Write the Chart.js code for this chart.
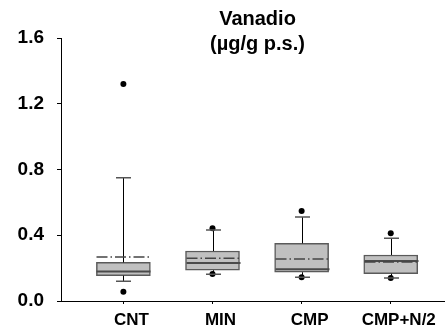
<!DOCTYPE html>
<html>
<head>
<meta charset="utf-8">
<script src="https://cdn.jsdelivr.net/npm/chart.js@4"></script>
<style>
  html, body { margin: 0; padding: 0; background: #fff; overflow: hidden; }
</style>
</head>
<body>
<canvas id="chart" width="450" height="334"></canvas>
<script>
const categories = ["CNT", "MIN", "CMP", "CMP+N/2"];
const q1 = [0.154, 0.187, 0.175, 0.166];
const median = [0.180, 0.231, 0.193, 0.243];
const q3 = [0.235, 0.304, 0.351, 0.280];
const whiskerLow = [0.120, 0.162, 0.144, 0.140];
const whiskerHigh = [0.750, 0.432, 0.511, 0.381];
const means = [0.268, 0.260, 0.255, 0.238];
const outlierHigh = [1.32, 0.442, 0.547, 0.412];
const outlierLow = [0.057, 0.165, 0.144, 0.140];
const yTicks = [0, 0.4, 0.8, 1.2, 1.6];
const titleLines = ["Vanadio", "(µg/g p.s.)"];

const BOX_W = 54;
const CAP_W = 15;
const FONT = "'Liberation Sans', Arial, sans-serif";

// whiskers, caps, median and mean lines on top of the boxes
const boxLines = {
  id: "boxLines",
  afterDatasetsDraw(chart) {
    const { ctx, scales: { x, y } } = chart;
    ctx.save();
    categories.forEach((c, i) => {
      const cx = Math.round(x.getPixelForValue(i)) + 0.5;
      const left = cx - BOX_W / 2, right = cx + BOX_W / 2;

      ctx.strokeStyle = "#000";
      ctx.lineWidth = 1;
      ctx.setLineDash([]);
      ctx.beginPath();
      ctx.moveTo(cx, y.getPixelForValue(q3[i]));
      ctx.lineTo(cx, y.getPixelForValue(whiskerHigh[i]));
      ctx.moveTo(cx, y.getPixelForValue(q1[i]));
      ctx.lineTo(cx, y.getPixelForValue(whiskerLow[i]));
      ctx.stroke();

      ctx.strokeStyle = "#555";
      ctx.lineWidth = 1.5;
      ctx.beginPath();
      [whiskerHigh[i], whiskerLow[i]].forEach(v => {
        const py = y.getPixelForValue(v);
        ctx.moveTo(cx - CAP_W / 2, py);
        ctx.lineTo(cx + CAP_W / 2, py);
      });
      ctx.stroke();

      ctx.strokeStyle = "#4a4a4a";
      ctx.lineWidth = 2;
      ctx.beginPath();
      const my = y.getPixelForValue(median[i]);
      ctx.moveTo(left, my);
      ctx.lineTo(right, my);
      ctx.stroke();

      ctx.strokeStyle = "#444";
      ctx.lineWidth = 1.5;
      ctx.setLineDash([11, 3, 1.5, 3]);
      ctx.beginPath();
      const ay = y.getPixelForValue(means[i]);
      ctx.moveTo(left, ay);
      ctx.lineTo(right, ay);
      ctx.stroke();
    });
    ctx.restore();
  }
};

// two-line heading that sits beside the top of the plot
const heading = {
  id: "heading",
  afterDraw(chart) {
    const { ctx, chartArea } = chart;
    ctx.save();
    ctx.fillStyle = "#000";
    ctx.font = "bold 20px " + FONT;
    ctx.textAlign = "center";
    ctx.textBaseline = "alphabetic";
    const cx = (chartArea.left + chartArea.right) / 2 + 4;
    ctx.fillText(titleLines[0], cx, 25);
    ctx.fillText(titleLines[1], cx, 50);
    ctx.restore();
  }
};

new Chart(document.getElementById("chart"), {
  type: "bar",
  data: {
    datasets: [{
      type: "bar",
      data: categories.map((c, i) => ({ x: i, y: [q1[i], q3[i]] })),
      backgroundColor: "#c0c0c0",
      borderColor: "#5a5a5a",
      borderWidth: 1.5,
      borderSkipped: false,
      barThickness: BOX_W,
      order: 2
    }, {
      type: "scatter",
      data: categories.flatMap((c, i) => [
        { x: i, y: outlierHigh[i] },
        { x: i, y: outlierLow[i] }
      ]),
      pointRadius: 3,
      pointBackgroundColor: "#000",
      pointBorderColor: "#000",
      pointBorderWidth: 0,
      order: 1
    }]
  },
  options: {
    responsive: false,
    animation: false,
    layout: { padding: { top: 38, right: 0, left: 0, bottom: 0 } },
    plugins: { legend: { display: false }, tooltip: { enabled: false }, title: { display: false } },
    scales: {
      x: {
        type: "linear",
        offset: false,
        min: -0.7,
        max: 3.62,
        afterBuildTicks: s => { s.ticks = categories.map((c, i) => ({ value: i })); },
        afterFit: s => { s.height = 33; s.paddingLeft = 0; s.paddingRight = 0; },
        grid: { display: true, offset: false, drawOnChartArea: false, color: "#000", tickLength: 3 },
        border: { display: true, color: "#000", width: 1 },
        ticks: {
          callback: v => categories[v],
          color: "#000",
          font: { family: FONT, size: 17, weight: "bold" },
          padding: 6,
          labelOffset: 8,
          maxRotation: 0,
          autoSkip: false
        }
      },
      y: {
        type: "linear",
        min: 0,
        max: 1.6,
        afterBuildTicks: s => { s.ticks = yTicks.map(v => ({ value: v })); },
        afterFit: s => { s.width = 61; },
        grid: { display: true, drawOnChartArea: false, color: "#000", tickLength: 4 },
        border: { display: true, color: "#000", width: 1 },
        ticks: {
          callback: v => v.toFixed(1),
          color: "#000",
          font: { family: FONT, size: 19, weight: "bold" },
          padding: 13
        }
      }
    }
  },
  plugins: [boxLines, heading]
});
</script>
</body>
</html>
